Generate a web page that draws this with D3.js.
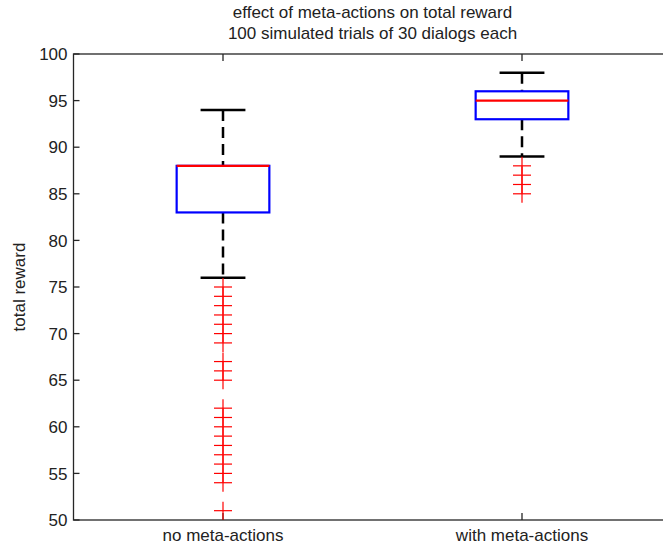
<!DOCTYPE html>
<html>
<head>
<meta charset="utf-8">
<script src="https://cdn.jsdelivr.net/npm/d3@7"></script>
<style>
  body { margin: 0; background: #fff; }
  svg { display: block; }
  text { font-family: "Liberation Sans", Arial, sans-serif; fill: #222; }
</style>
</head>
<body>
<div id="chart"></div>
<script>
// box stats
var categories = ["no meta-actions", "with meta-actions"];
var lowerWhisker = [76, 89];
var q1 = [83, 93];
var median = [88, 95];
var q3 = [88, 96];
var upperWhisker = [94, 98];
var outliers = [
  [75, 74, 73, 72, 71, 70, 69, 67, 66, 65, 62, 61, 60, 59, 58, 57, 56, 55, 54, 51],
  [88, 87, 86, 85]
];
var yTicks = [50, 55, 60, 65, 70, 75, 80, 85, 90, 95, 100];
var titleLines = ["effect of meta-actions on total reward", "100 simulated trials of 30 dialogs each"];

var params = {
  width: 663, height: 545,
  left: 73.5, right: 671.5, top: 54, bottom: 520,
  boxHalf: 0.155, capHalf: 0.075, plusHalf: 9,
  font: "17px"
};

function plot_all() {
  var svg = d3.select("#chart").append("svg")
      .attr("width", params.width)
      .attr("height", params.height);

  var x = d3.scaleLinear().domain([0.5, 2.5]).range([params.left, params.right]);
  var y = d3.scaleLinear().domain([50, 100]).range([params.bottom, params.top]);

  // frame
  svg.append("rect")
      .attr("x", x(0.5)).attr("y", y(100))
      .attr("width", x(2.5) - x(0.5)).attr("height", y(50) - y(100))
      .attr("fill", "none").attr("stroke", "#262626").attr("stroke-width", 1.3);

  // y ticks, pointing inward
  svg.selectAll(".ytick").data(yTicks).enter().append("line")
      .attr("x1", x(0.5)).attr("x2", x(0.5) + 6)
      .attr("y1", function(d) { return y(d); }).attr("y2", function(d) { return y(d); })
      .attr("stroke", "#262626").attr("stroke-width", 1.3);
  svg.selectAll(".ylab").data(yTicks).enter().append("text")
      .attr("x", x(0.5) - 6)
      .attr("y", function(d) { return y(d); })
      .attr("dy", "0.36em")
      .attr("text-anchor", "end")
      .style("font-size", params.font)
      .text(function(d) { return d; });

  // x ticks, bottom and top
  [1, 2].forEach(function(p, i) {
    svg.append("line").attr("x1", x(p)).attr("x2", x(p))
        .attr("y1", y(50)).attr("y2", y(50) - 7)
        .attr("stroke", "#262626").attr("stroke-width", 1.3);
    svg.append("line").attr("x1", x(p)).attr("x2", x(p))
        .attr("y1", y(100)).attr("y2", y(100) + 7)
        .attr("stroke", "#262626").attr("stroke-width", 1.3);
    svg.append("text")
        .attr("x", x(p)).attr("y", 541)
        .attr("text-anchor", "middle")
        .style("font-size", params.font)
        .text(categories[i]);
  });

  add_boxes(svg, x, y);

  // axis label and title
  svg.append("text")
      .attr("transform", "translate(25," + ((params.top + params.bottom) / 2) + ") rotate(-90)")
      .attr("text-anchor", "middle")
      .style("font-size", params.font)
      .text("total reward");

  svg.selectAll(".plottitle").data(titleLines).enter().append("text")
      .attr("class", "plottitle")
      .attr("x", (x(0.5) + x(2.5)) / 2)
      .attr("y", function(d, i) { return 18 + i * 21; })
      .attr("text-anchor", "middle")
      .style("font-size", params.font)
      .text(function(d) { return d; });
}

function add_boxes(svg, x, y) {
  categories.forEach(function(c, i) {
    var p = i + 1;
    var g = svg.append("g");

    // dashed whiskers
    g.append("line").attr("x1", x(p)).attr("x2", x(p))
        .attr("y1", y(upperWhisker[i])).attr("y2", y(q3[i]))
        .attr("stroke", "#000").attr("stroke-width", 2.5).attr("stroke-dasharray", "11,6");
    g.append("line").attr("x1", x(p)).attr("x2", x(p))
        .attr("y1", y(q1[i])).attr("y2", y(lowerWhisker[i]))
        .attr("stroke", "#000").attr("stroke-width", 2.5).attr("stroke-dasharray", "11,6");

    // caps
    [upperWhisker[i], lowerWhisker[i]].forEach(function(v) {
      g.append("line")
          .attr("x1", x(p - params.capHalf)).attr("x2", x(p + params.capHalf))
          .attr("y1", y(v)).attr("y2", y(v))
          .attr("stroke", "#000").attr("stroke-width", 2.5);
    });

    // box
    g.append("rect")
        .attr("x", x(p - params.boxHalf)).attr("y", y(q3[i]))
        .attr("width", x(p + params.boxHalf) - x(p - params.boxHalf))
        .attr("height", y(q1[i]) - y(q3[i]))
        .attr("fill", "none").attr("stroke", "#0000ff").attr("stroke-width", 2.2);

    // median
    g.append("line")
        .attr("x1", x(p - params.boxHalf)).attr("x2", x(p + params.boxHalf))
        .attr("y1", y(median[i])).attr("y2", y(median[i]))
        .attr("stroke", "#ff0000").attr("stroke-width", 2.2);

    // outliers as plus signs
    var pl = g.selectAll(".out").data(outliers[i]).enter().append("g");
    pl.append("line")
        .attr("x1", x(p) - params.plusHalf).attr("x2", x(p) + params.plusHalf)
        .attr("y1", function(d) { return y(d); }).attr("y2", function(d) { return y(d); })
        .attr("stroke", "#ff0000").attr("stroke-width", 1.2);
    pl.append("line")
        .attr("x1", x(p)).attr("x2", x(p))
        .attr("y1", function(d) { return y(d) - params.plusHalf; })
        .attr("y2", function(d) { return y(d) + params.plusHalf; })
        .attr("stroke", "#ff0000").attr("stroke-width", 1.2);
  });
}

plot_all();
</script>
</body>
</html>
